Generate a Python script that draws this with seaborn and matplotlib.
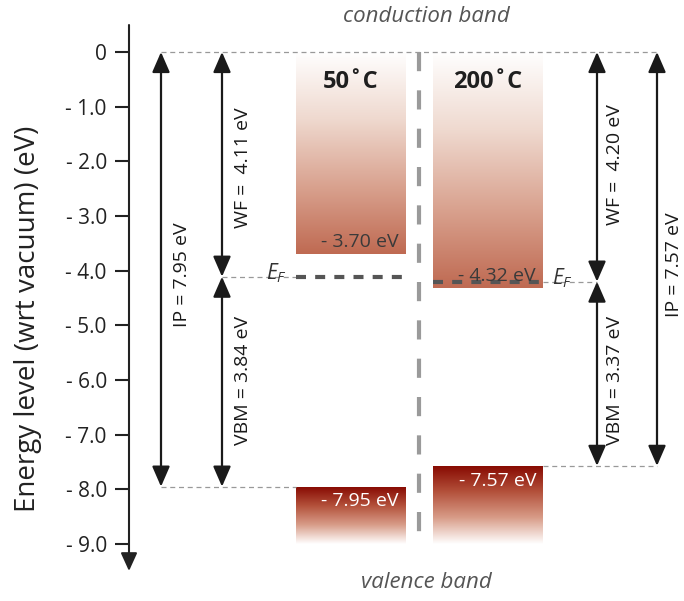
import numpy as np
import matplotlib
matplotlib.use("Agg")
import matplotlib.pyplot as plt
from matplotlib.colors import LinearSegmentedColormap
import seaborn as sns

# ---- data -------------------------------------------------------------
temps = ["50˚C", "200˚C"]                 # annealing temperatures
cbm = [-3.70, -4.32]                      # conduction band minimum (eV)
vbm = [-7.95, -7.57]                      # valence band maximum (eV)
fermi = [-4.11, -4.20]                    # Fermi level (eV)
work_fn = [4.11, 4.20]                    # work function (eV)
vbm_gap = [3.84, 3.37]                    # E_F - VBM (eV)
ion_pot = [7.95, 7.57]                    # ionisation potential (eV)
band_floor = -9.0                         # lower edge of valence band boxes
yticks = [0, -1, -2, -3, -4, -5, -6, -7, -8, -9]
ytick_labels = ["0", "- 1.0", "- 2.0", "- 3.0", "- 4.0",
                "- 5.0", "- 6.0", "- 7.0", "- 8.0", "- 9.0"]

# ---- style ------------------------------------------------------------
sns.set_theme(style="white")
plt.rcParams["font.family"] = ["Open Sans", "DejaVu Sans"]
plt.rcParams["mathtext.fontset"] = "custom"
plt.rcParams["mathtext.it"] = "Open Sans:italic"
plt.rcParams["mathtext.rm"] = "Open Sans"

W, H = 684, 601
fig = plt.figure(figsize=(W / 100, H / 100), dpi=100)
ax = fig.add_axes([0, 0, 1, 1])

# layout helpers: category spacing / energy scale in pixels
PX, X0 = 137.5, 350.5
PY, Y0 = 54.67, 52.0
def px2x(p):
    return (p - X0) / PX
def py2y(p):
    return -(p - Y0) / PY

# ---- conduction band bars (seaborn) -----------------------------------
sns.barplot(x=temps, y=cbm, ax=ax, width=0.8, color="#c0705a")
cond_patches = list(ax.patches)
# ---- valence band bars --------------------------------------------------
xs = np.arange(len(temps))
val_bars = ax.bar(xs, [band_floor - v for v in vbm], bottom=vbm, width=0.8,
                  color="#8a0b02")
val_patches = list(val_bars.patches)

cmap_cond = LinearSegmentedColormap.from_list(
    "cond", ["#ffffff", "#efd9cf", "#d9a28f", "#bf6a52"])
cmap_val = LinearSegmentedColormap.from_list(
    "val", ["#860800", "#b3503a", "#d89c88", "#ffffff"])
grad = np.linspace(0, 1, 256)[:, None]

def gradient_fill(patch, cmap):
    x0, y0 = patch.get_x(), patch.get_y()
    w, h = patch.get_width(), patch.get_height()
    ylo, yhi = min(y0, y0 + h), max(y0, y0 + h)
    im = ax.imshow(grad, extent=[x0, x0 + w, ylo, yhi], origin="upper",
                   aspect="auto", cmap=cmap, zorder=1, interpolation="bilinear")
    im.set_clip_path(patch)
    patch.set_facecolor("none")
    patch.set_edgecolor("none")

for p in cond_patches:
    gradient_fill(p, cmap_cond)
for p in val_patches:
    gradient_fill(p, cmap_val)

# ---- axes frame ---------------------------------------------------------
ax.set_xlim(px2x(0), px2x(W))
ax.set_ylim(py2y(H), py2y(0))
ax.set_xticks([])
ax.set_xlabel("")
for s in ["top", "right", "bottom", "left"]:
    ax.spines[s].set_visible(False)
axis_x = px2x(129)
ax.spines["left"].set_position(("data", axis_x))
ax.set_yticks(yticks, ytick_labels)
ax.tick_params(axis="y", direction="out", length=10, width=1.5,
               color="#222222", labelcolor="#222222", labelsize=15, pad=6,
               left=True)
ax.annotate("", xy=(axis_x, py2y(571)), xytext=(axis_x, py2y(25)),
            arrowprops=dict(arrowstyle="-|>,head_length=0.55,head_width=0.25",
                            lw=1.5, color="#222222", shrinkA=0, shrinkB=0,
                            mutation_scale=20))
ax.set_ylabel("Energy level (wrt vacuum) (eV)", fontsize=20, color="#222222")
ax.yaxis.set_label_coords(28 / W, 1 - 319 / H)
ax.yaxis.label.set_va("center")

# ---- guide lines ----------------------------------------------------------
thin = dict(color="#999999", lw=0.9, ls=(0, (4, 3)), zorder=2)
x_ipL, x_wfL = px2x(161), px2x(222)
x_wfR, x_ipR = px2x(597), px2x(657)
half = 0.4
ax.plot([x_ipL, x_ipR], [0, 0], **thin)
ax.plot([x_ipL, 0 - half], [vbm[0], vbm[0]], **thin)
ax.plot([1 + half, x_ipR], [vbm[1], vbm[1]], **thin)
ax.plot([x_wfL, 0 - half], [fermi[0], fermi[0]], **thin)
ax.plot([1 + half, x_wfR], [fermi[1], fermi[1]], **thin)

# Fermi level markers across each sample
for i, ef in enumerate(fermi):
    ax.plot([i - half, i + half], [ef, ef], color="#555555", lw=3,
            ls=(0, (2.4, 2.2)), zorder=3, solid_capstyle="butt")

# separator between samples
ax.plot([0.5, 0.5], [0, band_floor], color="#9a9a9a", lw=3,
        ls=(0, (4.6, 4.6)), zorder=2)

# ---- double-headed arrows ---------------------------------------------------
arrow_kw = dict(arrowstyle="<|-|>,head_length=0.62,head_width=0.27",
                lw=1.6, color="#1a1a1a", shrinkA=0, shrinkB=0,
                mutation_scale=20)
def darrow(x, ya, yb):
    ax.annotate("", xy=(x, yb), xytext=(x, ya), arrowprops=arrow_kw, zorder=4)

darrow(x_ipL, 0, vbm[0])
darrow(x_wfL, 0, fermi[0])
darrow(x_wfL, fermi[0], vbm[0])
darrow(x_wfR, 0, fermi[1])
darrow(x_wfR, fermi[1], vbm[1])
darrow(x_ipR, 0, vbm[1])

# rotated arrow labels
rot = dict(rotation=90, ha="center", va="center", fontsize=14, color="#1a1a1a")
ax.text(px2x(182), py2y(275), f"IP = {ion_pot[0]:.2f} eV", **rot)
ax.text(px2x(243), py2y(168), f"WF =  {work_fn[0]:.2f} eV", **rot)
ax.text(px2x(243), py2y(380), f"VBM = {vbm_gap[0]:.2f} eV", **rot)
ax.text(px2x(615), py2y(165), f"WF =  {work_fn[1]:.2f} eV", **rot)
ax.text(px2x(615), py2y(380), f"VBM = {vbm_gap[1]:.2f} eV", **rot)
ax.text(px2x(674), py2y(265), f"IP = {ion_pot[1]:.2f} eV", **rot)

# Fermi level tags
ax.text(px2x(266), fermi[0] - 0.05, r"$E_F$", fontsize=15, color="#333333",
        ha="left", va="baseline")
ax.text(px2x(552), fermi[1] - 0.05, r"$E_F$", fontsize=15, color="#333333",
        ha="left", va="baseline")

# ---- bar labels --------------------------------------------------------
for i, t in enumerate(temps):
    ax.text(i, py2y(82), t, ha="center", va="center", fontsize=17,
            fontweight="bold", color="#1f1f1f", zorder=5)
    ax.text(i + 0.35, cbm[i] + 0.22, f"- {abs(cbm[i]):.2f} eV", ha="right",
            va="center", fontsize=14, color="#3a3a3a", zorder=5)
    ax.text(i + 0.35, vbm[i] - 0.27, f"- {abs(vbm[i]):.2f} eV", ha="right",
            va="center", fontsize=14, color="white", zorder=5)

ax.text(px2x(426), py2y(16), "conduction band", ha="center", va="center",
        fontsize=16, style="italic", color="#555555")
ax.text(px2x(426), py2y(583), "valence band", ha="center", va="center",
        fontsize=16, style="italic", color="#555555")

fig.savefig("out.png", dpi=100)
